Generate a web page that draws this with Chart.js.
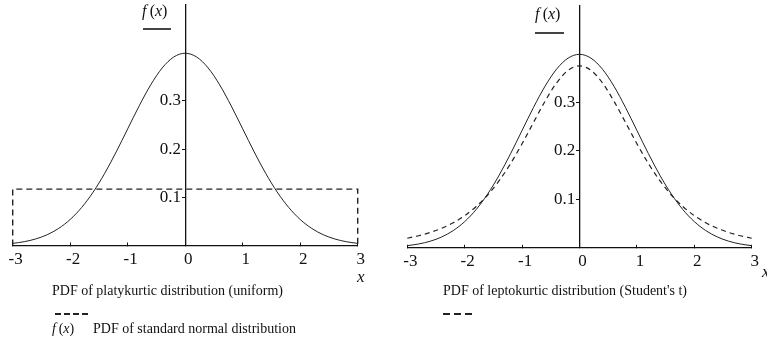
<!DOCTYPE html>
<html>
<head>
<meta charset="utf-8">
<script src="https://cdn.jsdelivr.net/npm/chart.js@4.4.0/dist/chart.umd.min.js"></script>
<style>
  html, body { margin:0; padding:0; background:#fff; }
  #wrap { position:relative; width:767px; height:353px; overflow:hidden; background:#fff;
          font-family:"Liberation Serif","Times New Roman",serif; color:#111; }
  canvas { position:absolute; top:0; }
  .t { position:absolute; white-space:nowrap; line-height:1; }
  .dash { position:absolute; height:1.5px; }
</style>
</head>
<body>
<div id="wrap">
  <canvas id="c1" width="383" height="353" style="left:0"></canvas>
  <canvas id="c2" width="384" height="353" style="left:383px"></canvas>

  <div class="t" style="left:142px;top:3px;font-size:16px;"><i>f</i>&thinsp;(<i>x</i>)</div>
  <div style="position:absolute;left:143px;top:28px;width:28px;height:2px;background:#444;"></div>
  <div class="t" style="left:535px;top:6px;font-size:16px;"><i>f</i>&thinsp;(<i>x</i>)</div>
  <div style="position:absolute;left:535px;top:32px;width:29px;height:2px;background:#444;"></div>

  <div class="t" style="left:357px;top:268px;font-size:17px;"><i>x</i></div>
  <div class="t" style="left:762px;top:263px;font-size:17px;"><i>x</i></div>

  <div class="t" style="left:52px;top:284px;font-size:14px;">PDF of platykurtic distribution (uniform)</div>
  <div class="dash" style="left:55px;top:313px;width:33px;background:repeating-linear-gradient(90deg,#222 0 6px,transparent 6px 9px);"></div>
  <div class="t" style="left:52px;top:322px;font-size:14px;"><i>f</i>&thinsp;(<i>x</i>)</div>
  <div class="t" style="left:93px;top:322px;font-size:14px;">PDF of standard normal distribution</div>

  <div class="t" style="left:443px;top:284px;font-size:14px;">PDF of leptokurtic distribution (Student's t)</div>
  <div class="dash" style="left:443px;top:313px;width:29px;background:repeating-linear-gradient(90deg,#222 0 7px,transparent 7px 11px);"></div>
</div>
<script>
// ---- data ----
const xValues = [-3,-2.8,-2.6,-2.4,-2.2,-2,-1.8,-1.6,-1.4,-1.2,-1,-0.8,-0.6,-0.4,-0.2,0,
                 0.2,0.4,0.6,0.8,1,1.2,1.4,1.6,1.8,2,2.2,2.4,2.6,2.8,3];
const normalPdf = [0.0044,0.0079,0.0136,0.0224,0.0355,0.0540,0.0790,0.1109,0.1497,0.1942,0.2420,0.2897,0.3332,0.3683,0.3910,0.3989,
                   0.3910,0.3683,0.3332,0.2897,0.2420,0.1942,0.1497,0.1109,0.0790,0.0540,0.0355,0.0224,0.0136,0.0079,0.0044];
const studentPdf = [0.0197,0.0249,0.0316,0.0403,0.0516,0.0663,0.0851,0.1089,0.1384,0.1739,0.2147,0.2588,0.3023,0.3400,0.3658,0.3750,
                    0.3658,0.3400,0.3023,0.2588,0.2147,0.1739,0.1384,0.1089,0.0851,0.0663,0.0516,0.0403,0.0316,0.0249,0.0197];
const uniformX = [-3,-3,3,3];
const uniformY = [0,0.117,0.117,0];
const xTicks = [-3,-2,-1,0,1,2,3];
const yTicks = [0.1,0.2,0.3];
// -------------------------------------

const FONT = 'Liberation Serif';
const X_AXIS_H = 40;
const toXY = (xs, ys) => xs.map((x,i) => ({x, y: ys[i]}));

function makeScales() {
  return {
    x: {
      type:'linear', position:'bottom', min:-3, max:3,
      afterBuildTicks: s => { s.ticks = xTicks.map(v => ({value:v})); },
      afterFit: s => { s.height = X_AXIS_H; s.paddingLeft = 0; s.paddingRight = 0; },
      grid: { drawOnChartArea:false, tickLength:-3, color:'#111', lineWidth:1 },
      border: { color:'#111', width:1.3 },
      ticks: { padding:7, labelOffset:3, maxRotation:0, autoSkip:false, color:'#111',
               font:{ family:FONT, size:17 }, callback: v => String(v) }
    },
    y: {
      type:'linear', position:{x:0}, min:0, max:0.5,
      afterBuildTicks: s => { s.ticks = yTicks.map(v => ({value:v})); },
      afterFit: s => { s.width = 0; s.paddingTop = 0; s.paddingBottom = 0; },
      grid: { drawOnChartArea:false, tickLength:3, color:'#111', lineWidth:1 },
      border: { color:'#111', width:1.3 },
      ticks: { padding:0, color:'#111', font:{ family:FONT, size:17 }, callback: v => String(v) + ' ' }
    }
  };
}

function baseOptions(pad) {
  return {
    responsive:false, animation:false,
    layout:{ padding: pad },
    plugins:{ legend:{display:false}, tooltip:{enabled:false}, title:{display:false} },
    elements:{ point:{ radius:0 } },
    scales: makeScales()
  };
}

new Chart(document.getElementById('c1'), {
  type:'line',
  data:{ datasets:[
    { data: toXY(xValues, normalPdf), borderColor:'#222', borderWidth:1, tension:0.4,
      cubicInterpolationMode:'monotone', fill:false, clip:false },
    { data: toXY(uniformX, uniformY), borderColor:'#222', borderWidth:1.4, borderDash:[6,4],
      tension:0, fill:false, clip:false }
  ]},
  options: baseOptions({ left:12.7, right:25.3, top:4.5, bottom:107.5 - X_AXIS_H })
});

new Chart(document.getElementById('c2'), {
  type:'line',
  data:{ datasets:[
    { data: toXY(xValues, normalPdf), borderColor:'#222', borderWidth:1, tension:0.4,
      cubicInterpolationMode:'monotone', fill:false, clip:false },
    { data: toXY(xValues, studentPdf), borderColor:'#222', borderWidth:1.2, borderDash:[5,4],
      tension:0.4, cubicInterpolationMode:'monotone', fill:false, clip:false }
  ]},
  options: baseOptions({ left:24.3, right:15.3, top:5.3, bottom:105.2 - X_AXIS_H })
});
</script>
</body>
</html>
